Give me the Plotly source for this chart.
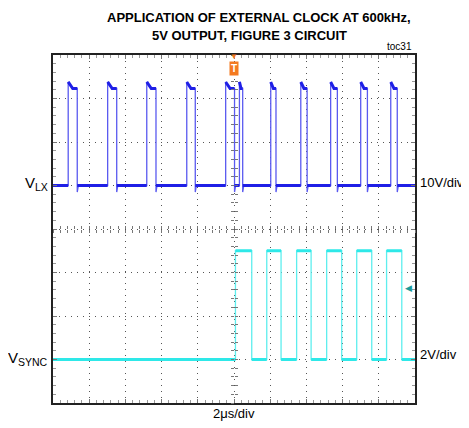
import plotly.graph_objects as go

# --- scope settings ---
T_DIV_US = 2            # 2us/div
X_RANGE_US = [-10, 10]  # 10 horizontal divisions, trigger at centre
Y_DIVS = [0, 8]         # 8 vertical divisions

# V_LX channel: 10V/div, ground reference at division 5
LX_VDIV = 10
LX_OFFSET_DIV = 5
LX_LOW_V = 0.0
LX_PEAK_V = 23.8        # overshoot right after the rising edge
LX_HIGH_V = 22.3        # settled top of the pulse
LX_DIP_V = -1.5         # small undershoot after the falling edge
LX_RISE_US = [-9.16, -6.98, -4.82, -2.61, -0.46, 0.30, 2.03, 3.69, 5.34, 7.00, 8.66]
LX_FALL_US = [-8.66, -6.48, -4.31, -2.14, 0.03, 0.48, 2.32, 4.04, 5.71, 7.37, 9.02]

# V_SYNC channel: 2V/div, ground reference at division 1
SYNC_VDIV = 2
SYNC_OFFSET_DIV = 1
SYNC_LOW_V = 0.0
SYNC_HIGH_V = 5.0
SYNC_RISE_US = [0.08, 1.81, 3.46, 5.12, 6.78, 8.43]
SYNC_FALL_US = [0.98, 2.60, 4.26, 5.95, 7.61, 9.27]
TRIG_LEVEL_V = 3.3

LX_COLOR = "#1f1fe6"
SYNC_COLOR = "#2ee8e8"
FONT = "Liberation Sans, Arial, sans-serif"
NARROW = "Liberation Sans Narrow, Arial Narrow, Liberation Sans, sans-serif"


def lx_div(v):
    return LX_OFFSET_DIV + v / LX_VDIV


def sync_div(v):
    return SYNC_OFFSET_DIV + v / SYNC_VDIV


def lx_wave():
    xs, ys = [X_RANGE_US[0]], [lx_div(LX_LOW_V)]
    tops_x, tops_y = [], []
    for r, f in zip(LX_RISE_US, LX_FALL_US):
        settle = r + min(0.25, (f - r) / 2)
        xs += [r, r, settle, f, f, f + 0.06]
        ys += [lx_div(LX_LOW_V), lx_div(LX_PEAK_V), lx_div(LX_HIGH_V),
               lx_div(LX_HIGH_V), lx_div(LX_DIP_V), lx_div(LX_LOW_V)]
        tops_x += [r, settle, f, None]
        tops_y += [lx_div(LX_PEAK_V), lx_div(LX_HIGH_V), lx_div(LX_HIGH_V), None]
    xs.append(X_RANGE_US[1])
    ys.append(lx_div(LX_LOW_V))
    # flat low parts drawn thick (noise band)
    low_x, low_y = [], []
    edges = [X_RANGE_US[0]] + [e for pair in zip(LX_RISE_US, LX_FALL_US) for e in pair] + [X_RANGE_US[1]]
    for a, b in zip(edges[0::2], edges[1::2]):
        low_x += [a, b, None]
        low_y += [lx_div(LX_LOW_V), lx_div(LX_LOW_V), None]
    return xs, ys, tops_x + low_x, tops_y + low_y


def sync_wave():
    xs, ys = [X_RANGE_US[0]], [sync_div(SYNC_LOW_V)]
    for r, f in zip(SYNC_RISE_US, SYNC_FALL_US):
        xs += [r, r, f, f]
        ys += [sync_div(SYNC_LOW_V), sync_div(SYNC_HIGH_V), sync_div(SYNC_HIGH_V), sync_div(SYNC_LOW_V)]
    xs.append(X_RANGE_US[1])
    ys.append(sync_div(SYNC_LOW_V))
    flat_x, flat_y = [], []
    for i in range(len(xs) - 1):
        if ys[i] == ys[i + 1]:
            flat_x += [xs[i], xs[i + 1], None]
            flat_y += [ys[i], ys[i + 1], None]
    return xs, ys, flat_x, flat_y


fig = go.Figure()

lx_x, lx_y, lx_fx, lx_fy = lx_wave()
fig.add_trace(go.Scatter(x=lx_x, y=lx_y, mode="lines", line=dict(color="#5a5af0", width=1.3),
                         showlegend=False, hoverinfo="skip"))
fig.add_trace(go.Scatter(x=lx_fx, y=lx_fy, mode="lines", line=dict(color=LX_COLOR, width=3),
                         showlegend=False, hoverinfo="skip"))

s_x, s_y, s_fx, s_fy = sync_wave()
fig.add_trace(go.Scatter(x=s_x, y=s_y, mode="lines", line=dict(color="#5eeeee", width=1.3),
                         showlegend=False, hoverinfo="skip"))
fig.add_trace(go.Scatter(x=s_fx, y=s_fy, mode="lines", line=dict(color=SYNC_COLOR, width=3),
                         showlegend=False, hoverinfo="skip"))

# dummy traces so the centre graticule axes get drawn
for xa, ya in [("x2", "y"), ("x3", "y"), ("x", "y2"), ("x", "y3")]:
    fig.add_trace(go.Scatter(x=[None], y=[None], xaxis=xa, yaxis=ya, showlegend=False, hoverinfo="skip"))

grid = dict(showgrid=True, gridcolor="#555555", gridwidth=1, griddash="1px,5px",
            zeroline=False, showticklabels=False)
frame = dict(showline=True, linecolor="#222222", linewidth=2, mirror="ticks",
             ticks="inside", ticklen=4, tickcolor="#777777", layer="above traces")
centre = dict(showline=False, showgrid=False, zeroline=False, showticklabels=False,
              ticklen=3, tickcolor="#777777", anchor="free", position=0.5)

# the page adds an 8px body margin, so the figure is 16px smaller than the window
fig.update_layout(
    width=461, height=420,
    margin=dict(l=45, r=54, t=47, b=25),
    paper_bgcolor="white", plot_bgcolor="white",
    xaxis=dict(range=X_RANGE_US, dtick=T_DIV_US, **grid, **frame,
               minor=dict(ticks="inside", ticklen=3, tickcolor="#999999", dtick=T_DIV_US / 5)),
    yaxis=dict(range=Y_DIVS, dtick=1, **grid, **frame,
               minor=dict(ticks="inside", ticklen=3, tickcolor="#999999", dtick=0.2)),
    xaxis2=dict(overlaying="x", range=X_RANGE_US, dtick=T_DIV_US / 5, ticks="outside", side="bottom", **centre),
    xaxis3=dict(overlaying="x", range=X_RANGE_US, dtick=T_DIV_US / 5, ticks="inside", side="bottom", **centre),
    yaxis2=dict(overlaying="y", range=Y_DIVS, dtick=0.2, ticks="outside", side="left", **centre),
    yaxis3=dict(overlaying="y", range=Y_DIVS, dtick=0.2, ticks="inside", side="left", **centre),
)

ann = [
    dict(text="<b>APPLICATION OF EXTERNAL CLOCK AT 600kHz,</b>",
         xref="paper", yref="paper", x=0.569, y=1, yshift=47, xanchor="center", yanchor="top",
         font=dict(family=NARROW, size=13, color="black"), showarrow=False),
    dict(text="<b>5V OUTPUT, FIGURE 3 CIRCUIT</b>",
         xref="paper", yref="paper", x=0.544, y=1, yshift=20, xanchor="center", yanchor="middle",
         font=dict(family=NARROW, size=13, color="black"), showarrow=False),
    dict(text="toc31", xref="paper", yref="paper", x=1, xshift=-1, y=1, yshift=1, xanchor="right", yanchor="bottom",
         font=dict(family=FONT, size=10, color="black"), showarrow=False),
    dict(text="V<sub>LX</sub>", xref="paper", yref="y", x=0, xshift=-3, y=lx_div(LX_LOW_V), yshift=2,
         xanchor="right", yanchor="middle", font=dict(family=FONT, size=15, color="black"), showarrow=False),
    dict(text="V<sub>SYNC</sub>", xref="paper", yref="y", x=0, xshift=-3, y=sync_div(SYNC_LOW_V), yshift=1,
         xanchor="right", yanchor="middle", font=dict(family=FONT, size=15, color="black"), showarrow=False),
    dict(text=f"{LX_VDIV}V/div", xref="paper", yref="y", x=1, xshift=3, y=lx_div(LX_LOW_V), yshift=3,
         xanchor="left", yanchor="middle", font=dict(family=FONT, size=13, color="black"), showarrow=False),
    dict(text=f"{SYNC_VDIV}V/div", xref="paper", yref="y", x=1, xshift=3, y=sync_div(SYNC_LOW_V), yshift=5,
         xanchor="left", yanchor="middle", font=dict(family=FONT, size=13, color="black"), showarrow=False),
    dict(text=f"{T_DIV_US}μs/div", xref="x", yref="paper", x=0, y=0, yshift=-1,
         xanchor="center", yanchor="top", font=dict(family=FONT, size=13, color="black"), showarrow=False),
    # trigger position marker
    dict(text="▼", xref="x", yref="paper", x=0, y=1, yshift=5, xanchor="center", yanchor="top",
         font=dict(family=FONT, size=8, color="#f47a20"), showarrow=False),
    dict(text="<b>T</b>", xref="x", yref="paper", x=0, y=1, yshift=-6, xanchor="center", yanchor="top",
         font=dict(family=FONT, size=10, color="white"), bgcolor="#f47a20", borderpad=1, showarrow=False),
    # trigger level marker
    dict(text="◀", xref="paper", yref="y", x=1, xshift=-1, y=sync_div(TRIG_LEVEL_V), xanchor="right",
         yanchor="middle", font=dict(family=FONT, size=9, color="#1a9a9a"), showarrow=False),
]
fig.update_layout(annotations=ann)

fig.write_html("out.html")
